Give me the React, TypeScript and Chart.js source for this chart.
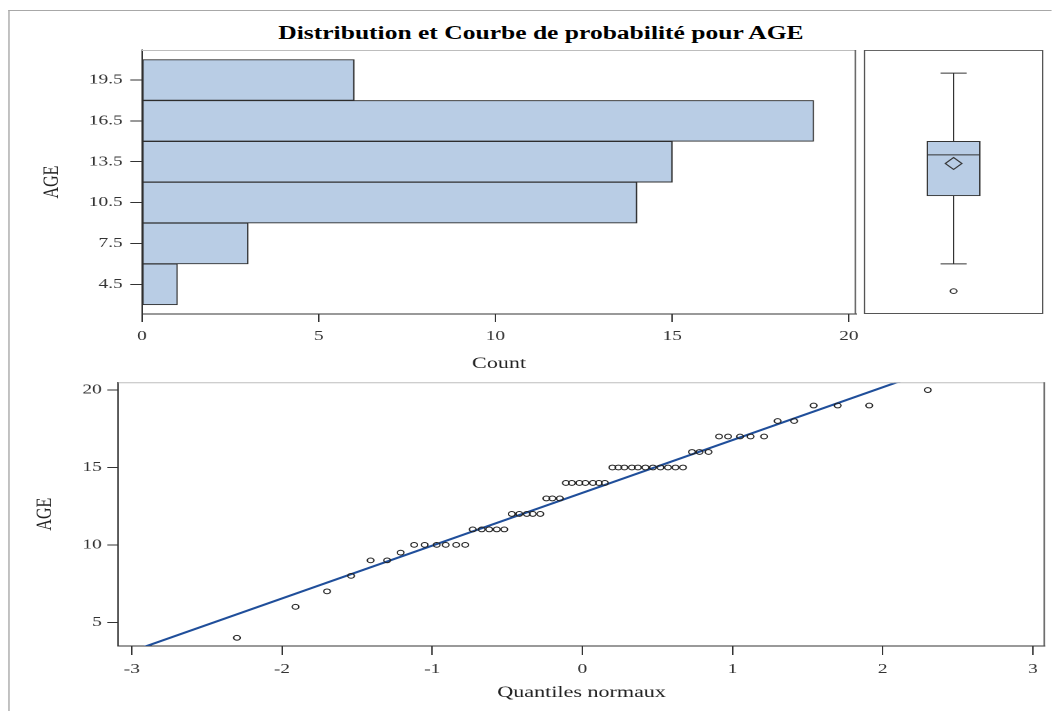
import React, { useEffect, useRef } from 'react';
import { Chart, registerables } from 'chart.js';

Chart.register(...registerables);

// ---------- data ----------
// Histogram of AGE (bin midpoints, counts)
const binMidpoints = [4.5, 7.5, 10.5, 13.5, 16.5, 19.5];
const binCounts = [1, 3, 14, 15, 19, 6];
const ageTickValues = [4.5, 7.5, 10.5, 13.5, 16.5, 19.5];
const countTickValues = [0, 5, 10, 15, 20];

// Box plot summary
const boxQ1 = 11;
const boxMedian = 14;
const boxQ3 = 15;
const boxMean = 13.37;
const whiskerLow = 6;
const whiskerHigh = 20;
const boxOutliers = [4];

// Normal probability plot
const normalQuantiles = [
  -2.30, -1.91, -1.70, -1.54, -1.41, -1.30, -1.21, -1.12, -1.05, -0.97,
  -0.91, -0.84, -0.78, -0.73, -0.67, -0.62, -0.57, -0.52, -0.47, -0.42,
  -0.37, -0.33, -0.28, -0.24, -0.20, -0.15, -0.11, -0.07, -0.02, 0.02,
  0.07, 0.11, 0.15, 0.20, 0.24, 0.28, 0.33, 0.37, 0.42, 0.47,
  0.52, 0.57, 0.62, 0.67, 0.73, 0.78, 0.84, 0.91, 0.97, 1.05,
  1.12, 1.21, 1.30, 1.41, 1.54, 1.70, 1.91, 2.30,
];
const sortedAges = [
  4, 6, 7, 8, 9, 9, 9.5, 10, 10, 10,
  10, 10, 10, 11, 11, 11, 11, 11, 12, 12,
  12, 12, 12, 13, 13, 13, 14, 14, 14, 14,
  14, 14, 14, 15, 15, 15, 15, 15, 15, 15,
  15, 15, 15, 15, 16, 16, 16, 17, 17, 17,
  17, 17, 18, 18, 19, 19, 19, 20,
];
const refLineX = [-3.1, 3.1];
const refLineY = [2.79, 23.93];
const qqXTickValues = [-3, -2, -1, 0, 1, 2, 3];
const qqYTickValues = [5, 10, 15, 20];

// ---------- layout / style ----------
const S = 1.38; // horizontal stretch of the original picture
const FONT = "'Liberation Serif', 'Times New Roman', serif";
const TICK_COLOR = '#333';
const AXIS_COLOR = '#333';
const BAR_FILL = '#b9cde5';
const BAR_EDGE = '#2e2e2e';
const LINE_BLUE = '#1f4e9a';

const framePlugin = {
  id: 'frame',
  afterDraw(chart: any, _args: any, opts: any) {
    const { ctx, chartArea: a } = chart;
    ctx.save();
    ctx.lineWidth = 1;
    const seg = (color: string | undefined, x1: number, y1: number, x2: number, y2: number) => {
      if (!color) return;
      ctx.strokeStyle = color;
      ctx.beginPath();
      ctx.moveTo(x1, y1);
      ctx.lineTo(x2, y2);
      ctx.stroke();
    };
    seg(opts.top, a.left, a.top + 0.5, a.right, a.top + 0.5);
    seg(opts.right, a.right - 0.5, a.top, a.right - 0.5, a.bottom);
    seg(opts.left, a.left + 0.5, a.top, a.left + 0.5, a.bottom);
    seg(opts.bottom, a.left, a.bottom - 0.5, a.right, a.bottom - 0.5);
    ctx.restore();
  },
};

const tickFont = { family: FONT, size: 14 };
const titleFont = { family: FONT, size: 16 };

const zeroPad = (sc: any) => {
  sc.paddingTop = 0;
  sc.paddingBottom = 0;
  sc.paddingLeft = 0;
  sc.paddingRight = 0;
};

export default function App() {
  const histRef = useRef<HTMLCanvasElement>(null);
  const boxRef = useRef<HTMLCanvasElement>(null);
  const qqRef = useRef<HTMLCanvasElement>(null);

  useEffect(() => {
    Chart.defaults.font.family = FONT;
    const charts: Chart[] = [];

    // ---- histogram ----
    charts.push(
      new Chart(histRef.current!, {
        type: 'bar',
        data: {
          datasets: [
            {
              data: binMidpoints.map((m, i) => ({ x: binCounts[i], y: m })),
              backgroundColor: BAR_FILL,
              borderColor: BAR_EDGE,
              borderWidth: 1,
              borderSkipped: false,
              categoryPercentage: 1,
              barPercentage: 1,
            } as any,
          ],
        },
        options: {
          indexAxis: 'y',
          responsive: false,
          animation: false,
          devicePixelRatio: 2,
          layout: { autoPadding: false, padding: { top: 6, right: 3.7, left: 0, bottom: 0 } },
          plugins: {
            legend: { display: false },
            tooltip: { enabled: false },
            frame: { top: '#bdbdbd', right: '#555' },
          } as any,
          scales: {
            y: {
              type: 'linear',
              min: 2.32,
              max: 21.7,
              offset: false,
              afterBuildTicks: (ax: any) => {
                ax.ticks = ageTickValues.map((v) => ({ value: v }));
              },
              afterFit: (sc: any) => {
                sc.width = 88.9;
                zeroPad(sc);
              },
              ticks: {
                font: tickFont,
                color: TICK_COLOR,
                padding: 5.5,
                callback: (v: any) => Number(v).toFixed(1),
              },
              grid: { display: true, offset: false, drawOnChartArea: false, drawTicks: true, tickLength: 8.5, tickColor: AXIS_COLOR },
              border: { display: true, color: AXIS_COLOR, width: 1 },
              title: { display: true, text: 'AGE', font: titleFont, color: '#222', padding: { top: 14.1, bottom: 0 } },
            },
            x: {
              type: 'linear',
              min: 0,
              max: 20.2,
              afterBuildTicks: (ax: any) => {
                ax.ticks = countTickValues.map((v) => ({ value: v }));
              },
              afterFit: (sc: any) => {
                sc.height = 66;
                zeroPad(sc);
              },
              ticks: { font: tickFont, color: TICK_COLOR, padding: 6, maxRotation: 0 },
              grid: { display: true, drawOnChartArea: false, drawTicks: true, tickLength: 8, tickColor: AXIS_COLOR },
              border: { display: true, color: AXIS_COLOR, width: 1 },
              title: { display: true, text: 'Count', font: titleFont, color: '#222', padding: { top: 0, bottom: 6.4 } },
            },
          },
        },
        plugins: [framePlugin],
      } as any)
    );

    // ---- box plot ----
    const cx = 0.5;
    const capHalf = 0.0725;
    const boxHalf = 0.148;
    const lineDs = (pts: { x: number; y: number }[]) => ({
      type: 'line',
      data: pts,
      borderColor: '#333',
      borderWidth: 1,
      pointRadius: 0,
      fill: false,
      order: 1,
    });
    charts.push(
      new Chart(boxRef.current!, {
        type: 'bar',
        data: {
          datasets: [
            {
              type: 'bar',
              data: [{ x: cx, y: [boxQ1, boxQ3] }],
              backgroundColor: BAR_FILL,
              borderColor: '#333',
              borderWidth: 1,
              borderSkipped: false,
              barThickness: 38.4,
              order: 10,
            },
            lineDs([{ x: cx, y: boxQ3 }, { x: cx, y: whiskerHigh }]),
            lineDs([{ x: cx, y: boxQ1 }, { x: cx, y: whiskerLow }]),
            lineDs([{ x: cx - capHalf, y: whiskerHigh }, { x: cx + capHalf, y: whiskerHigh }]),
            lineDs([{ x: cx - capHalf, y: whiskerLow }, { x: cx + capHalf, y: whiskerLow }]),
            lineDs([{ x: cx - boxHalf, y: boxMedian }, { x: cx + boxHalf, y: boxMedian }]),
            {
              type: 'scatter',
              data: [{ x: cx, y: boxMean }],
              pointStyle: 'rectRot',
              pointRadius: 6,
              pointBorderColor: '#333',
              pointBackgroundColor: 'rgba(0,0,0,0)',
              pointBorderWidth: 1,
              order: 0,
            },
            {
              type: 'scatter',
              data: boxOutliers.map((v) => ({ x: cx, y: v })),
              pointStyle: 'circle',
              pointRadius: 2.4,
              pointBorderColor: '#333',
              pointBackgroundColor: 'rgba(0,0,0,0)',
              pointBorderWidth: 1,
              order: 0,
            },
          ] as any,
        },
        options: {
          responsive: false,
          animation: false,
          devicePixelRatio: 2,
          layout: { autoPadding: false, padding: 0 },
          plugins: {
            legend: { display: false },
            tooltip: { enabled: false },
            frame: { top: '#666', right: '#555', left: '#555', bottom: '#555' },
          } as any,
          scales: {
            x: { type: 'linear', min: 0, max: 1, display: false, offset: false, grid: { offset: false } },
            y: { type: 'linear', min: 2.32, max: 21.7, display: false },
          },
        },
        plugins: [framePlugin],
      } as any)
    );

    // ---- QQ plot ----
    charts.push(
      new Chart(qqRef.current!, {
        type: 'scatter',
        data: {
          datasets: [
            {
              data: normalQuantiles.map((q, i) => ({ x: q, y: sortedAges[i] })),
              pointStyle: 'circle',
              pointRadius: 2.4,
              pointBorderColor: '#222',
              pointBackgroundColor: 'rgba(0,0,0,0)',
              pointBorderWidth: 1,
              showLine: false,
              order: 0,
            },
            {
              data: refLineX.map((x, i) => ({ x, y: refLineY[i] })),
              showLine: true,
              borderColor: LINE_BLUE,
              borderWidth: 2,
              pointRadius: 0,
              order: 1,
            },
          ],
        },
        options: {
          responsive: false,
          animation: false,
          devicePixelRatio: 2,
          layout: { autoPadding: false, padding: { top: 7.3, right: 4.8, left: 0, bottom: 0 } },
          plugins: {
            legend: { display: false },
            tooltip: { enabled: false },
            frame: { top: '#bdbdbd', right: '#555' },
          } as any,
          scales: {
            x: {
              type: 'linear',
              min: -3.09,
              max: 3.08,
              afterBuildTicks: (ax: any) => {
                ax.ticks = qqXTickValues.map((v) => ({ value: v }));
              },
              afterFit: (sc: any) => {
                sc.height = 65;
                zeroPad(sc);
              },
              ticks: { font: tickFont, color: TICK_COLOR, padding: 6, maxRotation: 0 },
              grid: { display: true, drawOnChartArea: false, drawTicks: true, tickLength: 9, tickColor: AXIS_COLOR },
              border: { display: true, color: AXIS_COLOR, width: 1 },
              title: { display: true, text: 'Quantiles normaux', font: titleFont, color: '#222', padding: { top: 0, bottom: 8.4 } },
            },
            y: {
              type: 'linear',
              min: 3.47,
              max: 20.5,
              afterBuildTicks: (ax: any) => {
                ax.ticks = qqYTickValues.map((v) => ({ value: v }));
              },
              afterFit: (sc: any) => {
                sc.width = 71.7;
                zeroPad(sc);
              },
              ticks: { font: tickFont, color: TICK_COLOR, padding: 4 },
              grid: { display: true, drawOnChartArea: false, drawTicks: true, tickLength: 8, tickColor: AXIS_COLOR },
              border: { display: true, color: AXIS_COLOR, width: 1 },
              title: { display: true, text: 'AGE', font: titleFont, color: '#222', padding: { top: 9.0, bottom: 0 } },
            },
          },
        },
        plugins: [framePlugin],
      } as any)
    );

    return () => {
      charts.forEach((c) => c.destroy());
    };
  }, []);

  return (
    <div
      style={{
        position: 'fixed',
        left: 0,
        top: 0,
        width: 762,
        height: 711,
        overflow: 'hidden',
        background: '#fff',
        transform: `scaleX(${S})`,
        transformOrigin: '0 0',
      }}
    >
      <div
        style={{
          position: 'absolute',
          left: 5.8,
          top: 10,
          width: 2000,
          height: 2000,
          borderLeft: '1px solid #a8a8a8',
          borderTop: '1px solid #a8a8a8',
        }}
      />
      <div
        style={{
          position: 'absolute',
          left: 541 / S - 300,
          top: 22,
          width: 600,
          textAlign: 'center',
          fontFamily: FONT,
          fontWeight: 'bold',
          fontSize: 18.5,
          lineHeight: '22px',
          color: '#000',
        }}
      >
        Distribution et Courbe de probabilité pour AGE
      </div>
      <canvas ref={histRef} width={610} height={336} style={{ position: 'absolute', left: 14, top: 44 }} />
      <canvas ref={boxRef} width={130} height={264} style={{ position: 'absolute', left: 626, top: 50 }} />
      <canvas ref={qqRef} width={748} height={336} style={{ position: 'absolute', left: 14, top: 375 }} />
    </div>
  );
}
